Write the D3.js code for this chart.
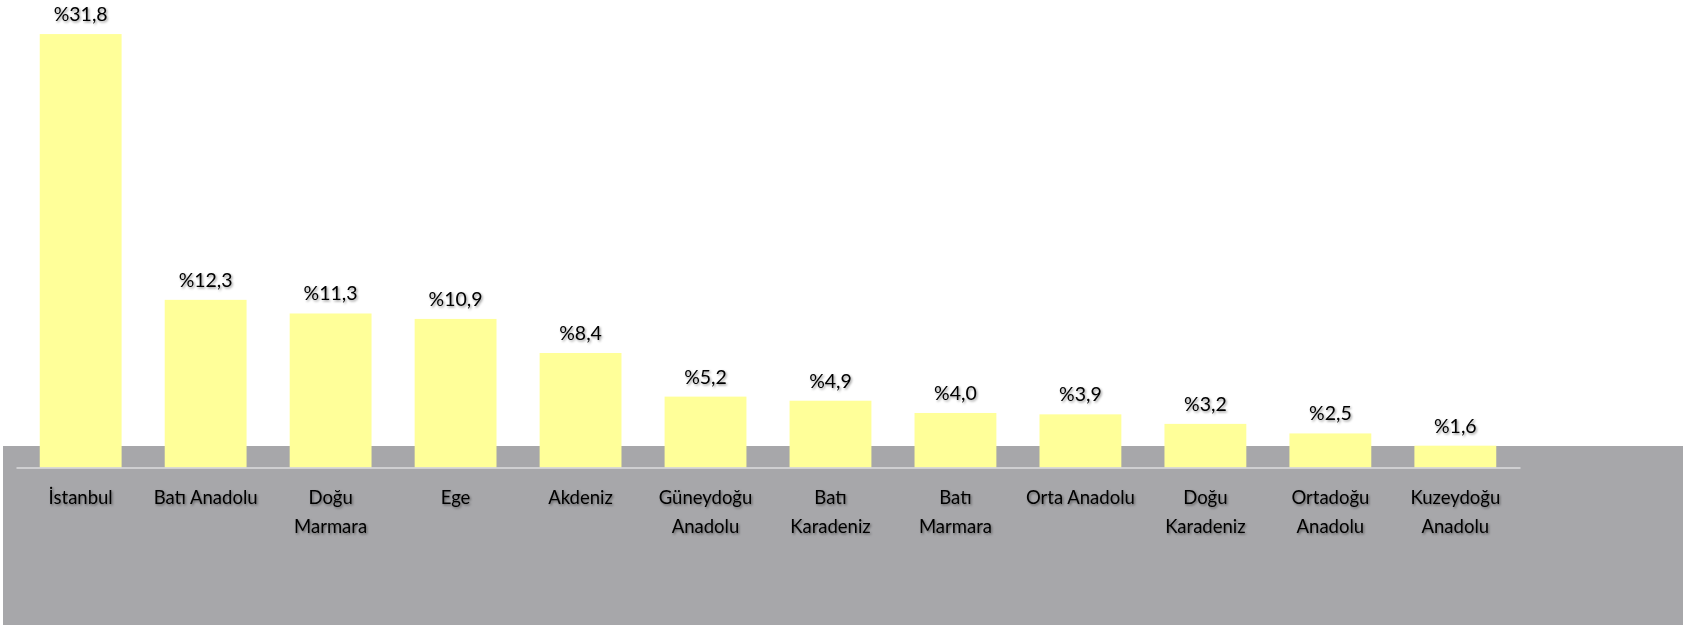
<!DOCTYPE html>
<html><head><meta charset="utf-8">
<script src="https://cdn.jsdelivr.net/npm/d3@7"></script>
<style>
html,body{margin:0;padding:0;background:#fff;}
svg{display:block;}
text{font-family:Lato,"Open Sans",sans-serif;fill:#000;}
</style></head>
<body>
<svg id="chart" width="1696" height="625"></svg>
<script>
const categories = ["İstanbul","Batı Anadolu","Doğu\nMarmara","Ege","Akdeniz","Güneydoğu\nAnadolu","Batı\nKaradeniz","Batı\nMarmara","Orta Anadolu","Doğu\nKaradeniz","Ortadoğu\nAnadolu","Kuzeydoğu\nAnadolu"];
const values = [31.8,12.3,11.3,10.9,8.4,5.2,4.9,4.0,3.9,3.2,2.5,1.6];
const valueLabels = ["%31,8","%12,3","%11,3","%10,9","%8,4","%5,2","%4,9","%4,0","%3,9","%3,2","%2,5","%1,6"];

const svg = d3.select("#chart");
const W = 1696, H = 625;
const baseY = 467.5;
const unit = 13.63;

const defs = svg.append("defs");
const f = defs.append("filter").attr("id","sh").attr("x","-20%").attr("y","-20%").attr("width","140%").attr("height","160%");
f.append("feDropShadow").attr("dx",1.2).attr("dy",1.4).attr("stdDeviation",1.1).attr("flood-color","#000").attr("flood-opacity",0.42);

// gray floor
svg.append("rect").attr("x",3).attr("y",446).attr("width",1680).attr("height",H-446).attr("fill","#a7a7aa");

const x = d3.scaleBand().domain(categories).range([16,1520]).paddingInner(0.345).paddingOuter(0.19);
const y = d3.scaleLinear().domain([0,34]).range([baseY, baseY - 34*unit]);

svg.append("g").selectAll("rect").data(values).join("rect")
  .attr("x",(d,i)=>x(categories[i]))
  .attr("y",d=>y(d))
  .attr("width",x.bandwidth())
  .attr("height",d=>y(0)-y(d))
  .attr("fill","#ffff99");

// axis line
const axis = d3.axisBottom(x).tickSize(0).tickFormat("");
const ag = svg.append("g").attr("transform",`translate(0,${baseY})`).call(axis);
ag.select(".domain").attr("stroke","#dcdcde").attr("stroke-width",1.6);

// value labels
svg.append("g").selectAll("text").data(values).join("text")
  .attr("x",(d,i)=>x(categories[i])+x.bandwidth()/2)
  .attr("y",d=>y(d)-13)
  .attr("text-anchor","middle")
  .attr("font-size",19.5)
  .attr("filter","url(#sh)")
  .text((d,i)=>valueLabels[i]);

// category labels
const cg = svg.append("g").selectAll("text").data(categories).join("text")
  .attr("x",d=>x(d)+x.bandwidth()/2)
  .attr("y",baseY+36)
  .attr("text-anchor","middle")
  .attr("font-size",18.5)
  .attr("filter","url(#sh)");
cg.each(function(d){
  const t = d3.select(this);
  d.split("\n").forEach((line,k)=>{
    t.append("tspan").attr("x",x(d)+x.bandwidth()/2).attr("dy",k===0?0:29).text(line);
  });
});
</script>
</body></html>
